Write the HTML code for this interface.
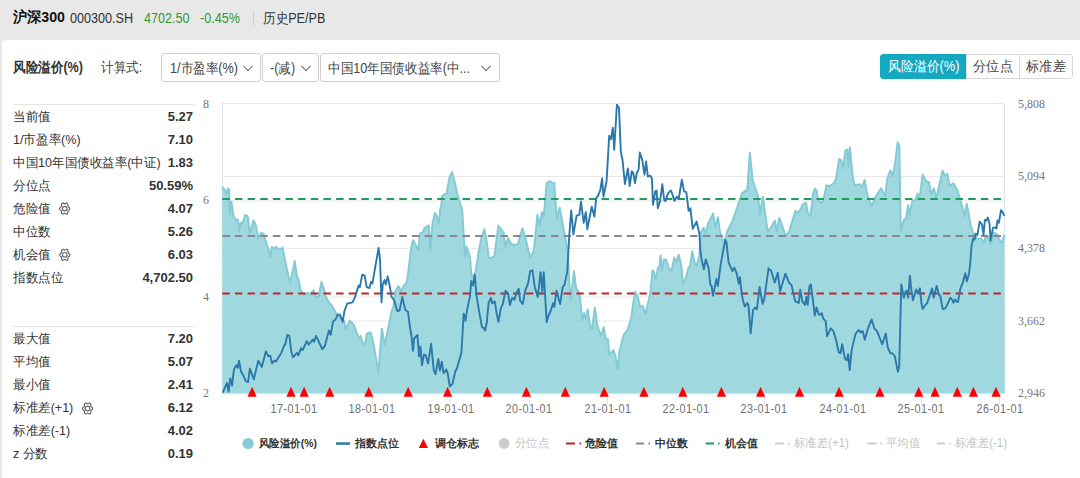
<!DOCTYPE html>
<html><head><meta charset="utf-8">
<style>
*{margin:0;padding:0;box-sizing:border-box}
html,body{width:1080px;height:478px;overflow:hidden;background:#e8e8e8;font-family:"Liberation Sans",sans-serif;color:#333}
.abs{position:absolute;white-space:nowrap}
#hdr .t1{left:13px;top:9px;line-height:16px;font-size:15px;font-weight:bold;color:#111}
#hdr .t2{left:70px;top:10px;line-height:16px;font-size:14px;color:#333}
#hdr .t3{left:144px;top:10px;line-height:16px;font-size:14px;color:#2e9a3a}
#hdr .t4{left:200px;top:10px;line-height:16px;font-size:14px;color:#2e9a3a}
.sx{transform:scaleX(0.9);transform-origin:0 0}
#hdr .sep{left:253px;top:10px;width:1px;height:16px;background:#cfcfcf}
#hdr .t5{left:263px;top:10px;line-height:16px;font-size:14px;color:#333}
#panel{position:absolute;left:2px;top:40px;width:1078px;height:438px;background:#fff;border-top-left-radius:4px}
.tb{font-size:14px}
.dd{position:absolute;top:53px;height:29px;border:1px solid #d0d0d0;border-radius:3px;background:#fff;font-size:14px;color:#444;}
.dd .ar{position:absolute;top:10.5px}
.dd .dt{position:absolute;top:5px;line-height:18px;white-space:nowrap}
.bt{display:inline-block;transform-origin:50% 0}
.bg{position:absolute;top:54px;height:25px;font-size:14px;line-height:23px;text-align:center;border:1px solid #d9d9d9;color:#444;background:#fff}
.row{position:absolute;left:13px;width:180px;height:23px;font-size:13px;line-height:21px;color:#333}
.row .lb{display:inline-block;transform:scaleX(0.965);transform-origin:0 0}
.row b{position:absolute;right:0;top:0;font-weight:bold;color:#333}
.hr{position:absolute;left:13px;width:181px;height:1px;background:#e5e5e5}
.ax{position:absolute;font-family:"Liberation Serif",serif;font-size:12px;line-height:14px;color:#777}
.xl{position:absolute;top:402px;line-height:14px;font-size:12px;color:#707070;letter-spacing:0.5px}
.xl span{display:inline-block;transform:scaleX(0.9)}
.lg{position:absolute;top:436px;line-height:15px;font-size:11px;font-weight:bold;color:#333}
.lg.g{color:#c4c4c4;font-weight:normal;font-size:12px;transform:scaleX(0.95);transform-origin:0 0;top:435.5px}
</style></head><body>
<div id="hdr">
<div class="abs t1" style="transform:scaleX(0.945);transform-origin:0 0">沪深300</div>
<div class="abs t2 sx">000300.SH</div>
<div class="abs t3 sx">4702.50</div>
<div class="abs t4 sx">-0.45%</div>
<div class="abs sep"></div>
<div class="abs t5 sx">历史PE/PB</div>
</div>
<div id="panel"></div>
<div class="abs tb sx" style="left:13px;top:59px;font-weight:bold;color:#333">风险溢价(%)</div>
<div class="abs tb sx" style="left:101px;top:59px;color:#444">计算式:</div>
<div class="dd" style="left:161px;width:100px"><span class="sx dt" style="left:8px">1/市盈率(%)</span><svg class="ar" style="left:81px" width="10" height="7" viewBox="0 0 10 7"><polyline points="0.5,0.8 5,5.6 9.5,0.8" fill="none" stroke="#777" stroke-width="1.1"/></svg></div>
<div class="dd" style="left:262px;width:57px"><span class="sx dt" style="left:7px">-(减)</span><svg class="ar" style="left:38px" width="10" height="7" viewBox="0 0 10 7"><polyline points="0.5,0.8 5,5.6 9.5,0.8" fill="none" stroke="#777" stroke-width="1.1"/></svg></div>
<div class="dd" style="left:320px;width:180px"><span class="sx dt" style="left:7px">中国10年国债收益率(中...</span><svg class="ar" style="left:160px" width="10" height="7" viewBox="0 0 10 7"><polyline points="0.5,0.8 5,5.6 9.5,0.8" fill="none" stroke="#777" stroke-width="1.1"/></svg></div>
<div class="bg" style="left:880px;width:87px;background:#15a8c3;border-color:#15a8c3;color:#fff;border-radius:3px 0 0 3px"><span class="bt" style="transform:scaleX(0.915)">风险溢价(%)</span></div>
<div class="bg" style="left:966px;width:54px"><span class="bt" style="transform:scaleX(0.94)">分位点</span></div>
<div class="bg" style="left:1019px;width:54px;border-radius:0 3px 3px 0"><span class="bt" style="transform:scaleX(0.94)">标准差</span></div>

<div class="hr" style="top:104px"></div>
<div class="row" style="top:106px"><span class="lb">当前值</span><b>5.27</b></div>
<div class="row" style="top:129px"><span class="lb">1/市盈率(%)</span><b>7.10</b></div>
<div class="row" style="top:152px"><span class="lb">中国10年国债收益率(中证)</span><b>1.83</b></div>
<div class="row" style="top:175px"><span class="lb">分位点</span><b>50.59%</b></div>
<div class="row" style="top:198px"><span class="lb">危险值</span><b>4.07</b></div>
<div class="row" style="top:221px"><span class="lb">中位数</span><b>5.26</b></div>
<div class="row" style="top:244px"><span class="lb">机会值</span><b>6.03</b></div>
<div class="row" style="top:267px"><span class="lb">指数点位</span><b>4,702.50</b></div>
<div class="hr" style="top:326px"></div>
<div class="row" style="top:328px"><span class="lb">最大值</span><b>7.20</b></div>
<div class="row" style="top:351px"><span class="lb">平均值</span><b>5.07</b></div>
<div class="row" style="top:374px"><span class="lb">最小值</span><b>2.41</b></div>
<div class="row" style="top:397px"><span class="lb">标准差(+1)</span><b>6.12</b></div>
<div class="row" style="top:420px"><span class="lb">标准差(-1)</span><b>4.02</b></div>
<div class="row" style="top:443px"><span class="lb">z 分数</span><b>0.19</b></div>

<!--GEARS--><svg class="abs" style="left:0;top:0;pointer-events:none" width="200" height="478" viewBox="0 0 200 478"><g transform="translate(64.7,208.6)"><path d="M5.05,0.00 L4.95,0.53 L4.68,1.01 L4.30,1.41 L3.90,1.73 L3.56,2.03 L3.33,2.35 L3.22,2.75 L3.18,3.25 L3.15,3.84 L3.05,4.44 L2.85,4.97 L2.53,5.34 L2.10,5.49 L1.62,5.45 L1.15,5.24 L0.72,4.99 L0.34,4.78 L0.00,4.70 L-0.34,4.78 L-0.72,4.99 L-1.15,5.24 L-1.62,5.45 L-2.10,5.49 L-2.52,5.34 L-2.85,4.97 L-3.05,4.44 L-3.15,3.84 L-3.18,3.25 L-3.22,2.75 L-3.33,2.35 L-3.56,2.03 L-3.90,1.73 L-4.30,1.41 L-4.68,1.01 L-4.95,0.53 L-5.05,0.00 L-4.95,-0.53 L-4.68,-1.01 L-4.30,-1.41 L-3.90,-1.73 L-3.56,-2.03 L-3.33,-2.35 L-3.22,-2.75 L-3.18,-3.25 L-3.15,-3.84 L-3.05,-4.44 L-2.85,-4.97 L-2.53,-5.34 L-2.10,-5.49 L-1.62,-5.45 L-1.15,-5.24 L-0.72,-4.99 L-0.34,-4.78 L-0.00,-4.70 L0.34,-4.78 L0.72,-4.99 L1.15,-5.24 L1.62,-5.45 L2.10,-5.49 L2.52,-5.34 L2.85,-4.97 L3.05,-4.44 L3.15,-3.84 L3.18,-3.25 L3.22,-2.75 L3.33,-2.35 L3.56,-2.03 L3.90,-1.73 L4.30,-1.41 L4.68,-1.01 L4.95,-0.53Z" fill="none" stroke="#666" stroke-width="1.2"/><circle cx="0" cy="0" r="2.3" fill="none" stroke="#666" stroke-width="1.2"/></g><g transform="translate(64.8,254.8)"><path d="M5.05,0.00 L4.95,0.53 L4.68,1.01 L4.30,1.41 L3.90,1.73 L3.56,2.03 L3.33,2.35 L3.22,2.75 L3.18,3.25 L3.15,3.84 L3.05,4.44 L2.85,4.97 L2.53,5.34 L2.10,5.49 L1.62,5.45 L1.15,5.24 L0.72,4.99 L0.34,4.78 L0.00,4.70 L-0.34,4.78 L-0.72,4.99 L-1.15,5.24 L-1.62,5.45 L-2.10,5.49 L-2.52,5.34 L-2.85,4.97 L-3.05,4.44 L-3.15,3.84 L-3.18,3.25 L-3.22,2.75 L-3.33,2.35 L-3.56,2.03 L-3.90,1.73 L-4.30,1.41 L-4.68,1.01 L-4.95,0.53 L-5.05,0.00 L-4.95,-0.53 L-4.68,-1.01 L-4.30,-1.41 L-3.90,-1.73 L-3.56,-2.03 L-3.33,-2.35 L-3.22,-2.75 L-3.18,-3.25 L-3.15,-3.84 L-3.05,-4.44 L-2.85,-4.97 L-2.53,-5.34 L-2.10,-5.49 L-1.62,-5.45 L-1.15,-5.24 L-0.72,-4.99 L-0.34,-4.78 L-0.00,-4.70 L0.34,-4.78 L0.72,-4.99 L1.15,-5.24 L1.62,-5.45 L2.10,-5.49 L2.52,-5.34 L2.85,-4.97 L3.05,-4.44 L3.15,-3.84 L3.18,-3.25 L3.22,-2.75 L3.33,-2.35 L3.56,-2.03 L3.90,-1.73 L4.30,-1.41 L4.68,-1.01 L4.95,-0.53Z" fill="none" stroke="#666" stroke-width="1.2"/><circle cx="0" cy="0" r="2.3" fill="none" stroke="#666" stroke-width="1.2"/></g><g transform="translate(87.6,408.5)"><path d="M5.05,0.00 L4.95,0.53 L4.68,1.01 L4.30,1.41 L3.90,1.73 L3.56,2.03 L3.33,2.35 L3.22,2.75 L3.18,3.25 L3.15,3.84 L3.05,4.44 L2.85,4.97 L2.53,5.34 L2.10,5.49 L1.62,5.45 L1.15,5.24 L0.72,4.99 L0.34,4.78 L0.00,4.70 L-0.34,4.78 L-0.72,4.99 L-1.15,5.24 L-1.62,5.45 L-2.10,5.49 L-2.52,5.34 L-2.85,4.97 L-3.05,4.44 L-3.15,3.84 L-3.18,3.25 L-3.22,2.75 L-3.33,2.35 L-3.56,2.03 L-3.90,1.73 L-4.30,1.41 L-4.68,1.01 L-4.95,0.53 L-5.05,0.00 L-4.95,-0.53 L-4.68,-1.01 L-4.30,-1.41 L-3.90,-1.73 L-3.56,-2.03 L-3.33,-2.35 L-3.22,-2.75 L-3.18,-3.25 L-3.15,-3.84 L-3.05,-4.44 L-2.85,-4.97 L-2.53,-5.34 L-2.10,-5.49 L-1.62,-5.45 L-1.15,-5.24 L-0.72,-4.99 L-0.34,-4.78 L-0.00,-4.70 L0.34,-4.78 L0.72,-4.99 L1.15,-5.24 L1.62,-5.45 L2.10,-5.49 L2.52,-5.34 L2.85,-4.97 L3.05,-4.44 L3.15,-3.84 L3.18,-3.25 L3.22,-2.75 L3.33,-2.35 L3.56,-2.03 L3.90,-1.73 L4.30,-1.41 L4.68,-1.01 L4.95,-0.53Z" fill="none" stroke="#666" stroke-width="1.2"/><circle cx="0" cy="0" r="2.3" fill="none" stroke="#666" stroke-width="1.2"/></g></svg>
<div class="ax" style="left:203px;top:97px">8</div>
<div class="ax" style="left:203px;top:193px">6</div>
<div class="ax" style="left:203px;top:290px">4</div>
<div class="ax" style="left:203px;top:386px">2</div>
<div class="ax" style="left:1018px;top:97px">5,808</div>
<div class="ax" style="left:1018px;top:169px">5,094</div>
<div class="ax" style="left:1018px;top:241px">4,378</div>
<div class="ax" style="left:1018px;top:314px">3,662</div>
<div class="ax" style="left:1018px;top:386px">2,946</div>

<svg class="abs" style="left:0;top:0" width="1080" height="478" viewBox="0 0 1080 478">
<g stroke="#e8e8e8" stroke-width="1"><line x1="222" y1="103.5" x2="1005" y2="103.5"/><line x1="222" y1="176.5" x2="1005" y2="176.5"/><line x1="222" y1="201" x2="1005" y2="201"/><line x1="222" y1="248.5" x2="1005" y2="248.5"/><line x1="222" y1="297" x2="1005" y2="297"/><line x1="222" y1="321" x2="1005" y2="321"/></g>
<line x1="222.5" y1="103" x2="222.5" y2="394" stroke="#dde5ef"/>
<line x1="1004.5" y1="103" x2="1004.5" y2="394" stroke="#dde5ef"/>
<path d="M222.5,393.5 L222.3,186.7 L223.3,188.4 L225.0,190.0 L226.7,194.2 L228.0,188.4 L229.2,190.0 L229.7,213.5 L231.4,201.8 L233.4,216.0 L235.9,220.2 L237.6,219.3 L239.2,231.9 L240.4,222.7 L242.6,223.5 L245.1,215.1 L247.6,216.0 L249.8,233.6 L253.5,220.2 L256.0,226.0 L258.5,238.6 L261.0,232.7 L263.5,233.6 L266.9,245.3 L268.5,248.6 L270.2,257.0 L271.9,247.0 L273.6,248.6 L276.1,246.9 L278.6,249.5 L281.9,248.6 L282.5,247.5 L285.0,260.1 L287.5,271.8 L290.0,282.7 L292.6,271.8 L294.7,260.9 L296.7,275.1 L298.4,279.3 L300.9,291.0 L304.3,295.2 L307.6,292.7 L310.1,294.4 L313.5,290.2 L316.0,296.9 L318.5,296.9 L321.5,281.8 L323.8,288.5 L326.0,296.9 L328.5,301.9 L331.0,304.4 L333.6,308.6 L336.9,315.3 L344.6,321.6 L345.4,329.6 L349.9,320.7 L353.5,324.2 L358.8,338.5 L360.6,335.8 L362.4,342.0 L365.0,344.7 L366.8,334.0 L370.4,332.2 L373.0,341.1 L378.4,372.3 L381.9,328.7 L384.6,344.7 L386.4,336.7 L388.9,325.0 L391.6,311.2 L393.4,306.7 L395.2,291.6 L396.9,289.0 L397.8,286.3 L399.3,287.2 L400.5,292.0 L404.1,285.4 L406.7,282.7 L408.5,270.2 L410.3,254.2 L412.1,242.7 L413.2,240.2 L418.2,250.3 L420.0,233.5 L422.7,232.6 L424.4,228.2 L427.1,226.4 L428.9,225.5 L430.3,251.0 L432.5,223.7 L435.1,213.0 L436.9,216.6 L438.7,223.7 L440.5,207.7 L441.4,205.0 L442.2,196.1 L444.0,194.4 L446.7,193.5 L449.4,177.5 L452.0,172.1 L454.7,181.9 L457.4,194.4 L460.0,203.3 L462.3,210.4 L464.6,252.0 L465.4,256.9 L466.3,246.2 L469.9,256.9 L471.7,277.4 L475.2,273.8 L478.8,250.7 L481.4,238.0 L484.4,229.1 L486.7,241.5 L488.8,257.8 L491.3,257.8 L494.5,256.0 L496.5,240.0 L498.3,225.5 L501.0,229.1 L503.6,232.6 L505.4,246.9 L508.1,238.0 L510.7,243.3 L514.3,245.1 L517.9,244.2 L522.3,228.2 L525.0,236.2 L527.7,247.7 L530.2,257.8 L534.0,250.0 L537.4,214.8 L539.6,225.5 L541.9,212.2 L543.7,216.6 L546.7,182.8 L549.9,181.0 L552.6,182.8 L554.3,182.8 L555.2,198.8 L557.0,218.4 L559.7,207.7 L562.3,221.9 L565.0,236.2 L567.8,251.5 L569.5,285.0 L570.7,300.6 L574.0,271.2 L576.1,288.1 L579.6,293.5 L582.3,320.2 L584.1,313.0 L585.9,318.4 L587.7,309.5 L590.0,325.0 L592.1,329.1 L594.8,307.7 L597.4,325.5 L601.0,336.2 L603.7,327.3 L605.4,338.0 L608.1,339.7 L609.2,354.4 L613.3,350.2 L615.4,355.4 L617.5,369.0 L619.6,351.0 L622.8,337.7 L624.1,334.4 L627.5,330.0 L631.2,318.4 L633.0,304.1 L635.2,291.7 L637.5,296.1 L640.1,306.8 L642.8,305.9 L645.5,313.9 L649.0,298.8 L650.4,292.1 L652.5,270.4 L653.8,271.7 L655.9,279.9 L657.9,267.7 L659.3,267.0 L660.6,255.4 L662.0,269.7 L664.0,259.5 L666.1,259.5 L668.8,267.7 L671.5,271.1 L674.3,257.4 L676.3,262.2 L678.7,254.7 L681.1,264.3 L683.1,283.3 L685.8,278.5 L688.5,267.7 L689.9,266.3 L692.3,251.3 L694.7,262.9 L696.7,265.6 L699.4,255.4 L701.0,232.3 L703.7,227.8 L705.5,233.2 L708.2,223.4 L710.0,219.8 L713.1,213.6 L715.3,226.9 L718.0,217.2 L719.7,230.5 L722.4,240.3 L725.1,239.4 L727.7,230.5 L732.2,221.6 L735.7,211.8 L739.3,201.1 L742.0,193.1 L744.6,191.4 L747.3,189.6 L749.8,152.7 L752.7,180.7 L755.3,187.8 L758.0,195.8 L759.8,214.5 L762.8,196.7 L767.8,232.3 L771.3,226.9 L774.9,220.7 L776.7,231.4 L779.3,218.0 L782.0,225.2 L785.6,235.8 L789.1,231.4 L792.7,219.8 L795.4,210.9 L798.0,212.7 L800.7,209.1 L802.5,204.7 L806.0,202.9 L807.8,212.7 L810.5,216.3 L813.1,193.1 L814.9,188.7 L815.0,189.4 L816.7,190.4 L818.1,199.9 L821.3,203.0 L823.4,199.9 L826.5,185.2 L829.6,186.3 L833.8,183.1 L835.9,178.9 L839.1,159.1 L841.2,160.1 L843.2,168.5 L845.3,150.7 L847.4,149.6 L848.5,166.4 L849.9,147.6 L852.7,176.8 L854.7,185.2 L860.0,184.2 L862.1,187.3 L864.6,180.0 L867.3,194.6 L871.5,206.1 L875.7,196.7 L880.9,188.3 L885.1,195.7 L887.2,178.9 L890.3,170.6 L892.8,175.8 L895.5,160.1 L897.6,142.3 L899.3,145.5 L900.8,231.2 L903.9,219.7 L906.0,218.7 L908.1,205.1 L909.6,214.5 L912.3,200.9 L915.4,199.9 L917.5,193.6 L919.6,197.8 L922.7,174.7 L925.9,181.0 L929.0,182.1 L931.1,194.6 L933.8,188.3 L936.3,198.8 L939.5,184.2 L942.6,170.6 L944.7,175.8 L947.2,173.7 L949.9,186.3 L953.1,183.1 L957.3,190.0 L960.1,199.2 L961.9,205.0 L964.7,216.5 L966.7,203.8 L968.8,214.2 L970.5,224.5 L972.8,232.6 L975.1,236.0 L978.5,239.5 L980.9,238.3 L983.7,242.9 L986.0,235.5 L988.3,237.2 L990.6,244.1 L994.1,232.6 L997.0,234.3 L999.8,240.6 L1002.1,242.9 L1004.4,234.9 L1004.7,393.5 Z" fill="#88ced8" fill-opacity="0.8" stroke="none"/><path d="M222.3,186.7 L223.3,188.4 L225.0,190.0 L226.7,194.2 L228.0,188.4 L229.2,190.0 L229.7,213.5 L231.4,201.8 L233.4,216.0 L235.9,220.2 L237.6,219.3 L239.2,231.9 L240.4,222.7 L242.6,223.5 L245.1,215.1 L247.6,216.0 L249.8,233.6 L253.5,220.2 L256.0,226.0 L258.5,238.6 L261.0,232.7 L263.5,233.6 L266.9,245.3 L268.5,248.6 L270.2,257.0 L271.9,247.0 L273.6,248.6 L276.1,246.9 L278.6,249.5 L281.9,248.6 L282.5,247.5 L285.0,260.1 L287.5,271.8 L290.0,282.7 L292.6,271.8 L294.7,260.9 L296.7,275.1 L298.4,279.3 L300.9,291.0 L304.3,295.2 L307.6,292.7 L310.1,294.4 L313.5,290.2 L316.0,296.9 L318.5,296.9 L321.5,281.8 L323.8,288.5 L326.0,296.9 L328.5,301.9 L331.0,304.4 L333.6,308.6 L336.9,315.3 L344.6,321.6 L345.4,329.6 L349.9,320.7 L353.5,324.2 L358.8,338.5 L360.6,335.8 L362.4,342.0 L365.0,344.7 L366.8,334.0 L370.4,332.2 L373.0,341.1 L378.4,372.3 L381.9,328.7 L384.6,344.7 L386.4,336.7 L388.9,325.0 L391.6,311.2 L393.4,306.7 L395.2,291.6 L396.9,289.0 L397.8,286.3 L399.3,287.2 L400.5,292.0 L404.1,285.4 L406.7,282.7 L408.5,270.2 L410.3,254.2 L412.1,242.7 L413.2,240.2 L418.2,250.3 L420.0,233.5 L422.7,232.6 L424.4,228.2 L427.1,226.4 L428.9,225.5 L430.3,251.0 L432.5,223.7 L435.1,213.0 L436.9,216.6 L438.7,223.7 L440.5,207.7 L441.4,205.0 L442.2,196.1 L444.0,194.4 L446.7,193.5 L449.4,177.5 L452.0,172.1 L454.7,181.9 L457.4,194.4 L460.0,203.3 L462.3,210.4 L464.6,252.0 L465.4,256.9 L466.3,246.2 L469.9,256.9 L471.7,277.4 L475.2,273.8 L478.8,250.7 L481.4,238.0 L484.4,229.1 L486.7,241.5 L488.8,257.8 L491.3,257.8 L494.5,256.0 L496.5,240.0 L498.3,225.5 L501.0,229.1 L503.6,232.6 L505.4,246.9 L508.1,238.0 L510.7,243.3 L514.3,245.1 L517.9,244.2 L522.3,228.2 L525.0,236.2 L527.7,247.7 L530.2,257.8 L534.0,250.0 L537.4,214.8 L539.6,225.5 L541.9,212.2 L543.7,216.6 L546.7,182.8 L549.9,181.0 L552.6,182.8 L554.3,182.8 L555.2,198.8 L557.0,218.4 L559.7,207.7 L562.3,221.9 L565.0,236.2 L567.8,251.5 L569.5,285.0 L570.7,300.6 L574.0,271.2 L576.1,288.1 L579.6,293.5 L582.3,320.2 L584.1,313.0 L585.9,318.4 L587.7,309.5 L590.0,325.0 L592.1,329.1 L594.8,307.7 L597.4,325.5 L601.0,336.2 L603.7,327.3 L605.4,338.0 L608.1,339.7 L609.2,354.4 L613.3,350.2 L615.4,355.4 L617.5,369.0 L619.6,351.0 L622.8,337.7 L624.1,334.4 L627.5,330.0 L631.2,318.4 L633.0,304.1 L635.2,291.7 L637.5,296.1 L640.1,306.8 L642.8,305.9 L645.5,313.9 L649.0,298.8 L650.4,292.1 L652.5,270.4 L653.8,271.7 L655.9,279.9 L657.9,267.7 L659.3,267.0 L660.6,255.4 L662.0,269.7 L664.0,259.5 L666.1,259.5 L668.8,267.7 L671.5,271.1 L674.3,257.4 L676.3,262.2 L678.7,254.7 L681.1,264.3 L683.1,283.3 L685.8,278.5 L688.5,267.7 L689.9,266.3 L692.3,251.3 L694.7,262.9 L696.7,265.6 L699.4,255.4 L701.0,232.3 L703.7,227.8 L705.5,233.2 L708.2,223.4 L710.0,219.8 L713.1,213.6 L715.3,226.9 L718.0,217.2 L719.7,230.5 L722.4,240.3 L725.1,239.4 L727.7,230.5 L732.2,221.6 L735.7,211.8 L739.3,201.1 L742.0,193.1 L744.6,191.4 L747.3,189.6 L749.8,152.7 L752.7,180.7 L755.3,187.8 L758.0,195.8 L759.8,214.5 L762.8,196.7 L767.8,232.3 L771.3,226.9 L774.9,220.7 L776.7,231.4 L779.3,218.0 L782.0,225.2 L785.6,235.8 L789.1,231.4 L792.7,219.8 L795.4,210.9 L798.0,212.7 L800.7,209.1 L802.5,204.7 L806.0,202.9 L807.8,212.7 L810.5,216.3 L813.1,193.1 L814.9,188.7 L815.0,189.4 L816.7,190.4 L818.1,199.9 L821.3,203.0 L823.4,199.9 L826.5,185.2 L829.6,186.3 L833.8,183.1 L835.9,178.9 L839.1,159.1 L841.2,160.1 L843.2,168.5 L845.3,150.7 L847.4,149.6 L848.5,166.4 L849.9,147.6 L852.7,176.8 L854.7,185.2 L860.0,184.2 L862.1,187.3 L864.6,180.0 L867.3,194.6 L871.5,206.1 L875.7,196.7 L880.9,188.3 L885.1,195.7 L887.2,178.9 L890.3,170.6 L892.8,175.8 L895.5,160.1 L897.6,142.3 L899.3,145.5 L900.8,231.2 L903.9,219.7 L906.0,218.7 L908.1,205.1 L909.6,214.5 L912.3,200.9 L915.4,199.9 L917.5,193.6 L919.6,197.8 L922.7,174.7 L925.9,181.0 L929.0,182.1 L931.1,194.6 L933.8,188.3 L936.3,198.8 L939.5,184.2 L942.6,170.6 L944.7,175.8 L947.2,173.7 L949.9,186.3 L953.1,183.1 L957.3,190.0 L960.1,199.2 L961.9,205.0 L964.7,216.5 L966.7,203.8 L968.8,214.2 L970.5,224.5 L972.8,232.6 L975.1,236.0 L978.5,239.5 L980.9,238.3 L983.7,242.9 L986.0,235.5 L988.3,237.2 L990.6,244.1 L994.1,232.6 L997.0,234.3 L999.8,240.6 L1002.1,242.9 L1004.4,234.9" fill="none" stroke="#84cbd6" stroke-width="2" stroke-linejoin="round"/>
<g stroke-width="2" stroke-dasharray="7.5,5.142" fill="none">
<line x1="222.3" y1="199" x2="1005" y2="199" stroke="#1f9e5a"/>
<line x1="222.3" y1="236" x2="1005" y2="236" stroke="#878791"/>
<line x1="222.3" y1="293.5" x2="1005" y2="293.5" stroke="#c0272d"/>
</g>
<path d="M222.7,392.7 L227.1,383.0 L228.5,391.9 L230.3,378.5 L232.1,385.6 L233.9,369.6 L236.4,365.2 L237.8,367.8 L239.0,360.7 L241.0,371.4 L243.1,375.0 L245.8,381.2 L248.1,382.1 L249.9,368.7 L253.8,379.4 L258.3,360.7 L261.8,366.9 L265.9,351.3 L268.4,356.3 L270.4,355.9 L272.0,363.4 L274.3,360.7 L276.0,361.6 L281.4,352.7 L284.1,345.6 L285.5,343.8 L287.3,334.9 L289.4,335.8 L291.2,350.9 L293.0,357.2 L295.6,354.5 L296.9,352.7 L298.3,355.4 L301.0,348.3 L302.7,350.0 L306.8,341.1 L308.6,344.7 L312.9,339.4 L314.0,342.0 L316.1,335.8 L322.3,349.1 L325.0,345.6 L326.8,338.5 L328.9,330.5 L330.7,334.9 L333.0,321.6 L335.3,319.8 L337.8,314.4 L340.0,314.7 L342.7,321.9 L344.4,311.2 L347.1,303.7 L352.5,302.3 L355.1,296.9 L358.7,285.4 L359.9,287.2 L362.2,274.7 L364.6,275.6 L366.7,287.2 L369.4,288.0 L371.1,281.8 L372.4,283.6 L375.6,264.9 L378.6,248.0 L380.0,259.6 L381.5,302.3 L382.7,284.5 L384.5,280.0 L385.7,284.5 L387.7,276.5 L389.8,286.3 L391.6,296.9 L394.3,300.5 L397.3,311.2 L399.6,310.3 L402.3,296.9 L404.9,308.5 L405.3,310.0 L408.0,311.8 L409.8,326.0 L411.6,336.7 L413.0,350.9 L414.2,338.5 L417.4,334.9 L419.0,356.3 L420.5,346.5 L421.9,365.2 L424.0,354.5 L425.8,355.4 L428.1,363.4 L431.1,343.8 L433.8,370.5 L435.6,374.1 L438.3,358.9 L440.0,370.5 L441.8,361.6 L443.6,373.2 L446.3,369.6 L447.7,373.2 L449.8,386.5 L452.5,383.8 L455.5,370.5 L456.6,369.6 L461.4,352.7 L463.7,313.6 L465.5,320.7 L467.2,309.4 L469.9,296.9 L471.3,280.9 L473.1,285.4 L474.7,274.7 L476.7,296.9 L479.7,314.7 L481.9,326.9 L483.6,327.8 L485.1,330.5 L486.8,322.5 L488.6,303.2 L490.9,297.8 L492.1,303.2 L494.8,301.4 L496.6,313.0 L498.4,321.9 L501.0,307.6 L502.8,304.1 L505.5,290.7 L508.1,293.4 L509.9,305.0 L512.2,297.8 L514.4,299.6 L517.0,291.6 L518.8,288.9 L520.0,300.5 L522.7,304.1 L525.4,289.9 L528.0,283.7 L530.2,271.2 L532.5,270.3 L534.8,287.2 L537.8,297.0 L540.5,272.1 L542.3,291.7 L543.7,272.1 L546.7,322.0 L548.5,315.7 L551.2,309.5 L553.0,303.3 L554.4,306.8 L556.5,290.8 L560.1,304.1 L562.7,287.2 L564.5,284.6 L567.2,272.1 L569.3,235.0 L571.2,210.4 L573.4,234.4 L576.6,215.7 L579.3,214.8 L581.0,201.5 L583.7,222.8 L585.8,212.2 L587.3,229.1 L591.7,206.8 L594.4,216.6 L596.2,197.9 L597.9,196.1 L600.3,190.0 L602.1,178.3 L603.5,196.6 L606.6,181.0 L609.2,135.6 L611.0,139.1 L612.8,127.6 L614.2,149.8 L616.9,104.8 L619.0,107.8 L620.8,151.6 L622.6,160.5 L624.9,184.0 L627.9,168.5 L629.7,186.0 L631.8,171.2 L633.3,173.0 L635.0,183.0 L636.8,173.0 L638.6,169.4 L639.8,152.5 L642.2,159.6 L644.5,174.7 L646.1,161.4 L647.8,176.5 L650.2,175.6 L651.9,178.3 L653.0,204.7 L655.3,191.4 L656.6,190.5 L657.8,208.3 L660.1,201.1 L662.3,184.2 L664.2,200.2 L665.5,201.1 L668.1,193.1 L670.8,190.5 L672.0,193.1 L674.4,201.1 L676.7,196.7 L678.8,198.5 L681.8,179.8 L684.1,191.4 L686.3,192.2 L688.6,210.9 L690.4,208.3 L692.7,228.7 L696.6,221.6 L699.3,233.2 L700.5,252.0 L701.8,260.3 L703.9,269.2 L705.7,259.4 L708.5,267.5 L710.3,284.4 L711.6,286.1 L713.0,295.9 L716.4,279.0 L717.8,286.1 L720.5,265.7 L723.5,249.0 L725.3,239.8 L726.6,243.2 L728.5,262.1 L731.1,268.3 L732.4,271.0 L734.2,267.5 L736.5,272.8 L738.8,283.5 L740.0,277.2 L740.9,287.0 L742.7,299.5 L744.8,306.6 L747.2,303.0 L748.4,304.8 L750.7,333.3 L753.0,310.2 L755.2,307.5 L756.9,309.3 L759.6,287.0 L762.6,303.9 L764.4,298.6 L768.5,268.3 L771.2,271.0 L774.7,282.6 L777.8,272.8 L780.1,291.5 L782.7,282.6 L785.4,273.7 L789.0,282.6 L791.6,285.2 L795.2,301.3 L797.5,302.2 L798.8,303.0 L800.2,289.7 L802.3,301.3 L805.0,304.8 L806.4,296.8 L807.7,304.8 L809.4,286.1 L810.9,284.4 L814.8,315.5 L816.5,307.5 L818.9,314.6 L820.0,314.9 L821.8,313.1 L823.2,318.5 L825.7,321.1 L827.1,336.3 L830.7,328.3 L833.3,330.9 L836.0,339.8 L838.7,352.3 L840.5,353.2 L842.2,344.3 L844.9,358.5 L846.7,360.3 L848.1,354.1 L849.7,370.1 L851.7,349.6 L855.6,333.6 L858.8,330.0 L860.9,332.7 L862.7,330.9 L864.8,339.8 L868.0,328.3 L871.6,319.4 L874.3,328.3 L876.9,330.9 L882.3,344.3 L885.8,333.6 L887.6,346.9 L890.3,353.2 L892.1,353.2 L894.7,355.8 L897.9,371.9 L899.2,366.5 L901.0,297.0 L901.3,284.5 L903.8,297.7 L905.7,291.4 L907.0,290.8 L908.2,297.7 L909.9,275.7 L911.4,290.2 L912.9,300.2 L916.1,289.5 L917.6,293.3 L919.9,288.3 L921.4,302.7 L922.7,309.0 L925.2,305.2 L927.1,303.3 L929.6,295.8 L932.1,288.3 L933.7,297.7 L936.7,285.8 L939.0,295.2 L940.2,295.8 L942.7,309.0 L945.2,308.3 L947.1,305.2 L950.3,297.7 L952.1,299.6 L953.4,302.7 L955.0,299.6 L956.5,301.4 L958.0,302.1 L960.3,288.9 L962.8,282.6 L965.3,273.2 L966.8,281.4 L968.8,274.5 L970.1,265.1 L971.6,245.0 L973.4,238.3 L974.5,239.5 L975.7,233.7 L977.4,234.9 L979.7,221.6 L982.0,224.5 L983.5,234.9 L984.9,219.9 L986.6,220.5 L987.8,217.6 L989.5,223.4 L990.6,240.6 L992.9,228.0 L994.7,227.4 L996.4,228.5 L997.5,220.5 L998.9,222.8 L1001.0,210.1 L1002.7,212.4 L1004.4,215.9" fill="none" stroke="#2b79ab" stroke-width="1.9" stroke-linejoin="round"/>

<line x1="222" y1="394" x2="1005" y2="394" stroke="#dde5ef"/><line x1="294.0" y1="394" x2="294.0" y2="404" stroke="#dde5ef"/><line x1="372.4" y1="394" x2="372.4" y2="404" stroke="#dde5ef"/><line x1="450.8" y1="394" x2="450.8" y2="404" stroke="#dde5ef"/><line x1="529.2" y1="394" x2="529.2" y2="404" stroke="#dde5ef"/><line x1="607.6" y1="394" x2="607.6" y2="404" stroke="#dde5ef"/><line x1="686.0" y1="394" x2="686.0" y2="404" stroke="#dde5ef"/><line x1="764.4" y1="394" x2="764.4" y2="404" stroke="#dde5ef"/><line x1="842.8" y1="394" x2="842.8" y2="404" stroke="#dde5ef"/><line x1="921.2" y1="394" x2="921.2" y2="404" stroke="#dde5ef"/><line x1="999.6" y1="394" x2="999.6" y2="404" stroke="#dde5ef"/><g fill="#ff0000"><path d="M252.1,386.8 L256.7,396.8 L247.5,396.8 Z"/><path d="M291.0,386.8 L295.6,396.8 L286.4,396.8 Z"/><path d="M304.1,386.8 L308.7,396.8 L299.5,396.8 Z"/><path d="M329.7,386.8 L334.3,396.8 L325.1,396.8 Z"/><path d="M368.8,386.8 L373.4,396.8 L364.2,396.8 Z"/><path d="M408.2,386.8 L412.8,396.8 L403.6,396.8 Z"/><path d="M447.6,386.8 L452.2,396.8 L443.0,396.8 Z"/><path d="M487.3,386.8 L491.9,396.8 L482.7,396.8 Z"/><path d="M526.4,386.8 L531.0,396.8 L521.8,396.8 Z"/><path d="M565.3,386.8 L569.9,396.8 L560.7,396.8 Z"/><path d="M604.2,386.8 L608.8,396.8 L599.6,396.8 Z"/><path d="M643.9,386.8 L648.5,396.8 L639.3,396.8 Z"/><path d="M682.8,386.8 L687.4,396.8 L678.2,396.8 Z"/><path d="M721.4,386.8 L726.0,396.8 L716.8,396.8 Z"/><path d="M760.6,386.8 L765.2,396.8 L756.0,396.8 Z"/><path d="M799.5,386.8 L804.1,396.8 L794.9,396.8 Z"/><path d="M839.1,386.8 L843.7,396.8 L834.5,396.8 Z"/><path d="M879.8,386.8 L884.4,396.8 L875.2,396.8 Z"/><path d="M918.7,386.8 L923.3,396.8 L914.1,396.8 Z"/><path d="M935.0,386.8 L939.6,396.8 L930.4,396.8 Z"/><path d="M957.3,386.8 L961.9,396.8 L952.7,396.8 Z"/><path d="M973.4,386.8 L978.0,396.8 L968.8,396.8 Z"/><path d="M996.0,386.8 L1000.6,396.8 L991.4,396.8 Z"/></g>
</svg>
<div class="xl" style="left:264.0px;width:60px;text-align:center"><span>17-01-01</span></div><div class="xl" style="left:342.4px;width:60px;text-align:center"><span>18-01-01</span></div><div class="xl" style="left:420.8px;width:60px;text-align:center"><span>19-01-01</span></div><div class="xl" style="left:499.2px;width:60px;text-align:center"><span>20-01-01</span></div><div class="xl" style="left:577.6px;width:60px;text-align:center"><span>21-01-01</span></div><div class="xl" style="left:656.0px;width:60px;text-align:center"><span>22-01-01</span></div><div class="xl" style="left:734.4px;width:60px;text-align:center"><span>23-01-01</span></div><div class="xl" style="left:812.8px;width:60px;text-align:center"><span>24-01-01</span></div><div class="xl" style="left:891.2px;width:60px;text-align:center"><span>25-01-01</span></div><div class="xl" style="left:969.6px;width:60px;text-align:center"><span>26-01-01</span></div>
<svg class="abs" style="left:0;top:425px" width="1080" height="30" viewBox="0 425 1080 30">
<circle cx="248.1" cy="443.5" r="5.6" fill="#86cbd6"/>
<rect x="336" y="442.3" width="14" height="2.5" fill="#2b79ab"/>
<path d="M423.4,438.8 L428,448 L418.8,448 Z" fill="#ff0000"/>
<circle cx="504.1" cy="443.5" r="5.4" fill="#cccccc"/>
<rect x="566" y="442.5" width="9" height="2" fill="#c0272d"/><rect x="579.5" y="442.5" width="1.5" height="2" fill="#c0272d"/>
<rect x="636" y="442.5" width="8" height="2" fill="#888"/><rect x="648.5" y="442.5" width="1.5" height="2" fill="#888"/>
<rect x="705.5" y="442.5" width="8.5" height="2" fill="#1f9e5a"/><rect x="718" y="442.5" width="1.5" height="2" fill="#1f9e5a"/>
<rect x="775" y="442.5" width="9" height="2" fill="#ccc"/><rect x="788" y="442.5" width="1.5" height="2" fill="#ccc"/>
<rect x="867.5" y="442.5" width="9" height="2" fill="#ccc"/><rect x="880.5" y="442.5" width="1.5" height="2" fill="#ccc"/>
<rect x="937" y="442.5" width="8" height="2" fill="#ccc"/><rect x="949.5" y="442.5" width="1.5" height="2" fill="#ccc"/>
</svg>
<div class="lg" style="left:259px;transform:scaleX(0.95);transform-origin:0 0">风险溢价(%)</div>
<div class="lg" style="left:355px">指数点位</div>
<div class="lg" style="left:435px">调仓标志</div>
<div class="lg g" style="left:515px">分位点</div>
<div class="lg" style="left:585px">危险值</div>
<div class="lg" style="left:655px">中位数</div>
<div class="lg" style="left:725px">机会值</div>
<div class="lg g" style="left:794px">标准差(+1)</div>
<div class="lg g" style="left:886px">平均值</div>
<div class="lg g" style="left:955px">标准差(-1)</div>

</body></html>
